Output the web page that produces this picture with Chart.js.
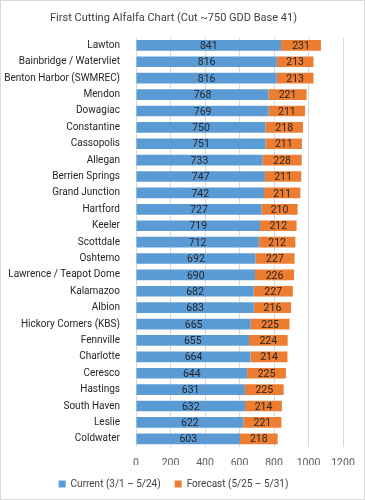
<!DOCTYPE html>
<html>
<head>
<meta charset="utf-8">
<script src="https://cdn.jsdelivr.net/npm/chart.js@4"></script>
<style>
  html, body { margin: 0; padding: 0; background: #fff; }
  .box { position: absolute; left: 0; top: 0; width: 363px; height: 498px; border: 1px solid #d9d9d9; }
  canvas { position: absolute; left: 0; top: 0; }
</style>
</head>
<body>
<div class="box"></div>
<canvas id="grafico" width="365" height="500"></canvas>
<script>
const locais = ['Lawton', 'Bainbridge / Watervliet', 'Benton Harbor (SWMREC)', 'Mendon', 'Dowagiac',
  'Constantine', 'Cassopolis', 'Allegan', 'Berrien Springs', 'Grand Junction', 'Hartford', 'Keeler',
  'Scottdale', 'Oshtemo', 'Lawrence / Teapot Dome', 'Kalamazoo', 'Albion', 'Hickory Corners (KBS)',
  'Fennville', 'Charlotte', 'Ceresco', 'Hastings', 'South Haven', 'Leslie', 'Coldwater'];
const atual = [841, 816, 816, 768, 769, 750, 751, 733, 747, 742, 727, 719, 712, 692, 690, 682, 683, 665,
  655, 664, 644, 631, 632, 622, 603];
const previsao = [231, 213, 213, 221, 211, 218, 211, 228, 211, 211, 210, 212, 212, 227, 226, 227, 216, 225,
  224, 214, 225, 225, 214, 221, 218];
const ticksX = [0, 200, 400, 600, 800, 1000, 1200];

const fonte = 'Roboto, sans-serif';

// rotulos no meio das barras (sem plugin externo)
const rotulos = {
  id: 'rotulos',
  afterDatasetsDraw(chart) {
    const ctx = chart.ctx;
    ctx.save();
    ctx.font = '10.5px ' + fonte;
    ctx.fillStyle = '#262626';
    ctx.textAlign = 'center';
    ctx.textBaseline = 'middle';
    chart.data.datasets.forEach((ds, i) => {
      chart.getDatasetMeta(i).data.forEach((bar, j) => {
        const meio = (bar.x + bar.base) / 2;
        ctx.fillText(ds.data[j], meio, bar.y + 1);
      });
    });
    ctx.restore();
  }
};

new Chart(document.getElementById('grafico'), {
  type: 'bar',
  data: {
    labels: locais,
    datasets: [
      { label: 'Current (3/1 \u2013 5/24)', data: atual, backgroundColor: '#5B9BD5' },
      { label: 'Forecast (5/25 \u2013 5/31)', data: previsao, backgroundColor: '#ED7D31' }
    ]
  },
  options: {
    indexAxis: 'y',
    responsive: false,
    animation: false,
    categoryPercentage: 0.65,
    barPercentage: 1,
    layout: { padding: { left: 4, right: 22, top: 6, bottom: 1 } },
    scales: {
      x: {
        stacked: true,
        min: 0, max: 1200,
        afterBuildTicks: (s) => { s.ticks = ticksX.map(v => ({ value: v })); },
        grid: { color: '#d9d9d9', drawTicks: false },
        border: { display: false },
        ticks: { color: '#595959', font: { family: fonte, size: 10.5 }, padding: 10, callback: (v) => String(v) },
        afterFit: (s) => { s.height = 18; }
      },
      y: {
        stacked: true,
        grid: { display: false },
        border: { display: false },
        ticks: { color: '#262626', font: { family: fonte, size: 10 }, padding: 8, autoSkip: false },
        afterFit: (s) => { s.width = 132; }
      }
    },
    plugins: {
      title: {
        display: true,
        text: 'First Cutting Alfalfa Chart (Cut ~750 GDD Base 41)',
        color: '#404040',
        font: { family: fonte, size: 11, weight: 'normal' },
        padding: { top: 6, bottom: 12 }
      },
      legend: {
        position: 'bottom',
        labels: { boxWidth: 7, boxHeight: 7, color: '#404040', font: { family: fonte, size: 10 }, padding: 14 }
      },
      tooltip: { enabled: false }
    }
  },
  plugins: [rotulos]
});
</script>
</body>
</html>
